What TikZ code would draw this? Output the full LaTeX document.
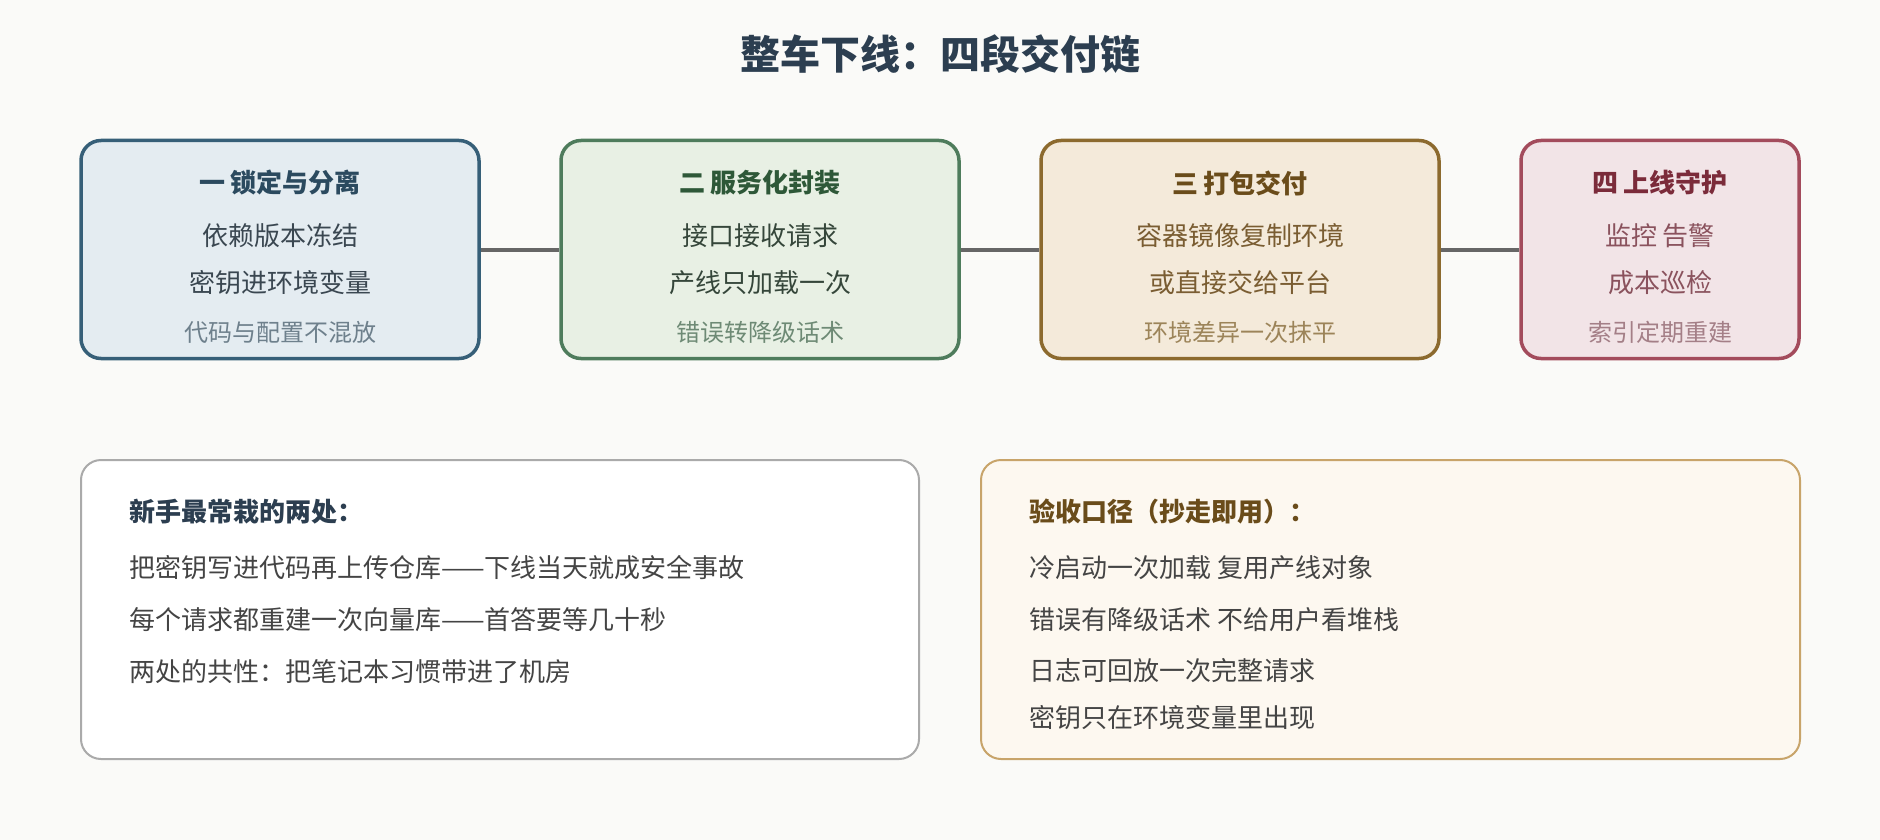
\documentclass[tikz,border=0pt]{standalone}
\usepackage{fontspec}
\setmainfont{Noto Sans CJK SC}

\definecolor{pagebg}{HTML}{FAFAF8}
\definecolor{titleink}{HTML}{2C3E50}
\definecolor{linkgray}{HTML}{666666}
\definecolor{bodyink}{HTML}{444444}
% stage colours: border, fill, head, item, note
\definecolor{lockline}{HTML}{365F78}
\definecolor{lockfill}{HTML}{E4ECF1}
\definecolor{lockhead}{HTML}{2B4A5F}
\definecolor{lockitem}{HTML}{3A4751}
\definecolor{locknote}{HTML}{6E808C}
\definecolor{serveline}{HTML}{4E7C5C}
\definecolor{servefill}{HTML}{E8F0E4}
\definecolor{servehead}{HTML}{2E5838}
\definecolor{serveitem}{HTML}{35463A}
\definecolor{servenote}{HTML}{6E8A75}
\definecolor{packline}{HTML}{8C6A2E}
\definecolor{packfill}{HTML}{F4EADA}
\definecolor{packhead}{HTML}{6A4C1A}
\definecolor{packitem}{HTML}{7A5D32}
\definecolor{packnote}{HTML}{9C8459}
\definecolor{guardline}{HTML}{A34B5C}
\definecolor{guardfill}{HTML}{F2E4E7}
\definecolor{guardhead}{HTML}{7B2B3A}
\definecolor{guarditem}{HTML}{8A525D}
\definecolor{guardnote}{HTML}{A47F87}
\definecolor{pitline}{HTML}{AAAAAA}
\definecolor{acceptline}{HTML}{C8A46A}
\definecolor{acceptfill}{HTML}{FDF8F0}
\definecolor{accepthead}{HTML}{6A4C1A}

\begin{document}
\begin{tikzpicture}[x=1pt,y=-1pt,
  stage/.style={draw, line width=3.5pt, rounded corners=20pt,
    minimum width=398pt, minimum height=218pt, inner sep=0pt},
  head/.style={font=\fontsize{26}{30}\selectfont\bfseries, inner sep=0pt},
  item/.style={font=\fontsize{26}{30}\selectfont, inner sep=0pt},
  note/.style={font=\fontsize{24}{28}\selectfont, inner sep=0pt},
  link/.style={draw=linkgray, line width=4pt},
  panel/.style={draw, line width=2pt, rounded corners=20pt,
    minimum height=299pt, inner sep=0pt},
  row/.style={anchor=west, inner sep=0pt, text=bodyink,
    font=\fontsize{26}{30}\selectfont},
  ]
  \fill[pagebg] (0,0) rectangle (1880,840);
  \useasboundingbox (0,0) rectangle (1880,840);

  \node[font=\fontsize{40}{46}\selectfont\bfseries, text=titleink] (title) at (940,54) {整车下线：四段交付链};

  % the four stages
  \node[stage, draw=lockline, fill=lockfill] (lock) at (280,249.5) {};
  \node[stage, draw=serveline, fill=servefill] (serve) at (760,249.5) {};
  \node[stage, draw=packline, fill=packfill] (pack) at (1240,249.5) {};
  \node[stage, draw=guardline, fill=guardfill, minimum width=278pt] (guard) at (1660,249.5) {};

  \draw[link] (lock) -- (serve);
  \draw[link] (serve) -- (pack);
  \draw[link] (pack) -- (guard);

  \node[head, text=lockhead] (lock title) at (280,183) {一 锁定与分离};
  \node[item, text=lockitem] (lock a) at (280,236) {依赖版本冻结};
  \node[item, text=lockitem] (lock b) at (280,283) {密钥进环境变量};
  \node[note, text=locknote] (lock c) at (280,332) {代码与配置不混放};

  \node[head, text=servehead] (serve title) at (760,183) {二 服务化封装};
  \node[item, text=serveitem] (serve a) at (760,236) {接口接收请求};
  \node[item, text=serveitem] (serve b) at (760,283) {产线只加载一次};
  \node[note, text=servenote] (serve c) at (760,332) {错误转降级话术};

  \node[head, text=packhead] (pack title) at (1240,183) {三 打包交付};
  \node[item, text=packitem] (pack a) at (1240,236) {容器镜像复制环境};
  \node[item, text=packitem] (pack b) at (1240,283) {或直接交给平台};
  \node[note, text=packnote] (pack c) at (1240,332) {环境差异一次抹平};

  \node[head, text=guardhead] (guard title) at (1660,183) {四 上线守护};
  \node[item, text=guarditem] (guard a) at (1660,236) {监控 告警};
  \node[item, text=guarditem] (guard b) at (1660,283) {成本巡检};
  \node[note, text=guardnote] (guard c) at (1660,332) {索引定期重建};

  % the two panels below
  \node[panel, draw=pitline, fill=white, minimum width=838pt] (pitfall) at (500,609.5) {};
  \node[row, text=titleink, font=\fontsize{26}{30}\selectfont\bfseries] (pitfall head) at (129,512) {新手最常栽的两处：};
  \node[row] (pitfall a) at (129,568) {把密钥写进代码再上传仓库——下线当天就成安全事故};
  \node[row] (pitfall b) at (129,620) {每个请求都重建一次向量库——首答要等几十秒};
  \node[row] (pitfall c) at (129,672) {两处的共性：把笔记本习惯带进了机房};

  \node[panel, draw=acceptline, fill=acceptfill, minimum width=819pt] (accept) at (1390.5,609.5) {};
  \node[row, text=accepthead, font=\fontsize{26}{30}\selectfont\bfseries] (accept head) at (1029,512) {验收口径（抄走即用）：};
  \node[row] (accept a) at (1029,568) {冷启动一次加载 复用产线对象};
  \node[row] (accept b) at (1029,620) {错误有降级话术 不给用户看堆栈};
  \node[row] (accept c) at (1029,671) {日志可回放一次完整请求};
  \node[row] (accept d) at (1029,718) {密钥只在环境变量里出现};
\end{tikzpicture}
\end{document}
